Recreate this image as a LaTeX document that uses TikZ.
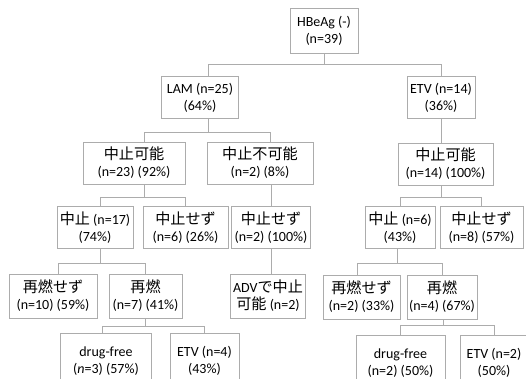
\documentclass[tikz,border=0pt]{standalone}
\usepackage{fontspec}
\setmainfont{Carlito}
\newfontfamily\jp{Noto Sans CJK JP}[Scale=1.08]
\usetikzlibrary{calc}
\tikzset{
  b/.style={draw=gray!65,line width=0.9pt,align=center,inner sep=0pt,minimum height=42pt,
    font=\fontsize{14}{17}\selectfont,text=black},
  ln/.style={draw=gray!65,line width=0.9pt},
}

\begin{document}
\begin{tikzpicture}[x=1pt,y=-1pt]
\useasboundingbox (0,0) rectangle (526,379);
\node[b,minimum width=68pt,minimum height=45pt] (root) at (324,30.5){HBeAg (-)\\(n=39)};
\node[b,minimum width=77pt] (lam) at (200,97.5){LAM (n=25)\\(64\%)};
\node[b,minimum width=68pt] (etv) at (441,97.5){ETV (n=14)\\(36\%)};
\node[b,minimum width=102pt] (ok1) at (134,163){{\jp 中止可能}\\(n=23) (92\%)};
\node[b,minimum width=106pt] (ng) at (260,163){{\jp 中止不可能}\\(n=2) (8\%)};
\node[b,minimum width=95pt] (ok2) at (445.5,164){{\jp 中止可能}\\(n=14) (100\%)};
\node[b,minimum width=76pt] (stop1) at (95,227.5){{\jp 中止} (n=17)\\(74\%)};
\node[b,minimum width=85pt] (cont1) at (185.5,227.5){{\jp 中止せず}\\(n=6) (26\%)};
\node[b,minimum width=79pt] (cont2) at (271,227.5){{\jp 中止せず}\\(n=2) (100\%)};
\node[b,minimum width=70pt] (stop2) at (400,227.5){{\jp 中止} (n=6)\\(43\%)};
\node[b,minimum width=83pt] (cont3) at (481.5,227.5){{\jp 中止せず}\\(n=8) (57\%)};
\node[b,minimum width=88pt,minimum height=44pt] (nr1) at (53,296){{\jp 再燃せず}\\(n=10) (59\%)};
\node[b,minimum width=73pt,minimum height=44pt] (rl1) at (145.5,296){{\jp 再燃}\\(n=7) (41\%)};
\node[b,minimum width=75pt,minimum height=44pt] (adv) at (268,296){ADV{\jp で中止}\\{\jp 可能} (n=2)};
\node[b,minimum width=77pt,minimum height=44pt] (nr2) at (361.5,297){{\jp 再燃せず}\\(n=2) (33\%)};
\node[b,minimum width=70pt,minimum height=44pt] (rl2) at (442,297){{\jp 再燃}\\(n=4) (67\%)};
\node[b,minimum width=91pt,minimum height=56pt] (df1) at (106,361){drug-free\\(\textit{n}=3) (57\%)};
\node[b,minimum width=69pt,minimum height=56pt] (etv1) at (204.5,361){ETV (n=4)\\(43\%)};
\node[b,minimum width=89pt,minimum height=56pt] (df2) at (400.5,363){drug-free\\(n=2) (50\%)};
\node[b,minimum width=68pt,minimum height=56pt] (etv2) at (494,363){ETV (n=2)\\(50\%)};
% forks
\coordinate (f0) at (324,64); \coordinate (f1) at (208,132); \coordinate (f2) at (441,197);
\coordinate (f3) at (144,197); \coordinate (f4) at (100,263); \coordinate (f5) at (397,263);
\coordinate (f6) at (145,326); \coordinate (f7) at (443,325);
\draw[ln] (root.south) -- (f0) -| ([xshift=8pt]lam.north); \draw[ln] (f0) -| (etv.north);
\draw[ln] (f1 |- lam.south) -- (f1) -| ([xshift=10pt]ok1.north); \draw[ln] (f1) -| ([xshift=10pt]ng.north);
\draw[ln] (etv.south) -- (etv.south |- ok2.north);
\draw[ln] (f2 |- ok2.south) -- (f2) -| (stop2.north); \draw[ln] (f2) -| (cont3.north);
\draw[ln] (f3 |- ok1.south) -- (f3) -| ([xshift=5pt]stop1.north); \draw[ln] (f3) -| (cont1.north);
\draw[ln] (cont2.north |- ng.south) -- (cont2.north);
\draw[ln] (cont2.south) -- (cont2.south |- adv.north);
\draw[ln] (f4 |- stop1.south) -- (f4) -| ([xshift=5pt]nr1.north); \draw[ln] (f4) -| (rl1.north);
\draw[ln] (f5 |- stop2.south) -- (f5) -| ([xshift=-4pt]nr2.north); \draw[ln] (f5) -| (rl2.north);
\draw[ln] (f6 |- rl1.south) -- (f6) -| ([xshift=-4pt]df1.north); \draw[ln] (f6) -| (etv1.north);
\draw[ln] (f7 |- rl2.south) -- (f7) -| (df2.north); \draw[ln] (f7) -| (etv2.north);
\end{tikzpicture}
\end{document}
